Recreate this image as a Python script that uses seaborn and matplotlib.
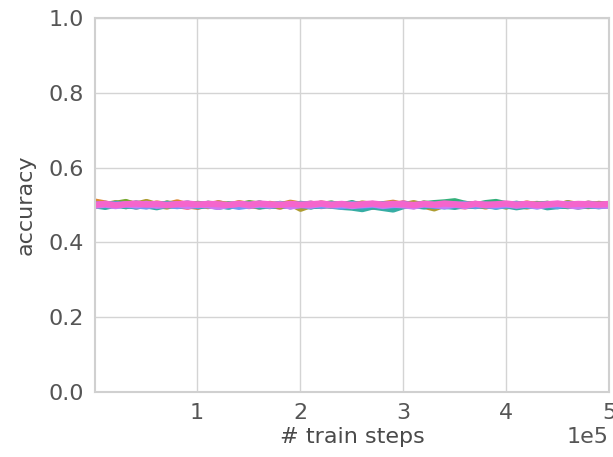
import numpy as np
import pandas as pd
import matplotlib
matplotlib.use("Agg")
import matplotlib.pyplot as plt
import seaborn as sns

# Evaluation accuracy per run, logged at evenly spaced checkpoints
first_step = 1000
last_step = 500000

runs = {
    "seed 0": [0.497, 0.502, 0.499, 0.504, 0.496, 0.501, 0.498, 0.503, 0.500, 0.495,
               0.502, 0.499, 0.505, 0.498, 0.501, 0.497, 0.503, 0.500, 0.496, 0.502,
               0.499, 0.504, 0.497, 0.501, 0.498, 0.503, 0.500, 0.496, 0.502, 0.499,
               0.505, 0.497, 0.501, 0.498, 0.503, 0.499, 0.496, 0.502, 0.500, 0.504,
               0.497, 0.501, 0.499, 0.503, 0.496, 0.500, 0.502, 0.498, 0.504, 0.499, 0.501],
    "seed 1": [0.509, 0.504, 0.498, 0.506, 0.501, 0.497, 0.504, 0.500, 0.507, 0.499,
               0.495, 0.503, 0.501, 0.498, 0.505, 0.500, 0.496, 0.503, 0.499, 0.506,
               0.501, 0.497, 0.504, 0.500, 0.498, 0.503, 0.499, 0.495, 0.502, 0.506,
               0.500, 0.497, 0.503, 0.499, 0.501, 0.505, 0.498, 0.502, 0.496, 0.503,
               0.500, 0.497, 0.504, 0.499, 0.502, 0.498, 0.505, 0.500, 0.497, 0.503, 0.500],
    "seed 2": [0.502, 0.499, 0.505, 0.497, 0.501, 0.508, 0.500, 0.496, 0.503, 0.499,
               0.502, 0.497, 0.504, 0.500, 0.498, 0.503, 0.499, 0.501, 0.496, 0.504,
               0.490, 0.500, 0.503, 0.498, 0.501, 0.497, 0.504, 0.500, 0.496, 0.502,
               0.499, 0.505, 0.498, 0.491, 0.501, 0.497, 0.503, 0.500, 0.498, 0.504,
               0.499, 0.502, 0.496, 0.501, 0.503, 0.498, 0.500, 0.497, 0.502, 0.499, 0.501],
    "seed 3": [0.500, 0.497, 0.503, 0.508, 0.499, 0.502, 0.496, 0.504, 0.500, 0.498,
               0.503, 0.500, 0.497, 0.502, 0.499, 0.505, 0.501, 0.497, 0.503, 0.499,
               0.502, 0.498, 0.500, 0.504, 0.497, 0.501, 0.499, 0.503, 0.496, 0.500,
               0.502, 0.498, 0.504, 0.500, 0.497, 0.502, 0.499, 0.503, 0.498, 0.501,
               0.496, 0.503, 0.500, 0.498, 0.502, 0.499, 0.504, 0.497, 0.501, 0.500, 0.502],
    "seed 4": [0.501, 0.498, 0.502, 0.499, 0.504, 0.500, 0.497, 0.503, 0.499, 0.501,
               0.498, 0.503, 0.500, 0.496, 0.502, 0.499, 0.504, 0.498, 0.501, 0.497,
               0.503, 0.500, 0.498, 0.502, 0.499, 0.505, 0.497, 0.501, 0.499, 0.503,
               0.500, 0.498, 0.502, 0.505, 0.507, 0.510, 0.503, 0.499, 0.505, 0.508,
               0.502, 0.498, 0.501, 0.499, 0.503, 0.500, 0.497, 0.502, 0.499, 0.501, 0.500],
    "seed 5": [0.499, 0.495, 0.501, 0.497, 0.503, 0.499, 0.494, 0.500, 0.498, 0.502,
               0.497, 0.500, 0.495, 0.501, 0.498, 0.503, 0.496, 0.499, 0.501, 0.497,
               0.500, 0.496, 0.502, 0.498, 0.495, 0.493, 0.489, 0.496, 0.492, 0.488,
               0.497, 0.500, 0.496, 0.502, 0.498, 0.495, 0.500, 0.497, 0.501, 0.496,
               0.499, 0.494, 0.498, 0.501, 0.494, 0.497, 0.500, 0.496, 0.499, 0.497, 0.500],
    "seed 6": [0.502, 0.499, 0.503, 0.500, 0.496, 0.501, 0.498, 0.502, 0.499, 0.504,
               0.497, 0.501, 0.499, 0.496, 0.502, 0.500, 0.503, 0.498, 0.501, 0.499,
               0.502, 0.497, 0.500, 0.503, 0.499, 0.501, 0.496, 0.500, 0.502, 0.498,
               0.501, 0.499, 0.503, 0.497, 0.500, 0.502, 0.498, 0.501, 0.499, 0.496,
               0.501, 0.503, 0.498, 0.500, 0.502, 0.497, 0.501, 0.499, 0.503, 0.498, 0.501],
    "seed 7": [0.500, 0.503, 0.498, 0.501, 0.499, 0.496, 0.502, 0.500, 0.497, 0.501,
               0.499, 0.503, 0.497, 0.500, 0.495, 0.499, 0.502, 0.498, 0.501, 0.497,
               0.500, 0.503, 0.498, 0.500, 0.496, 0.502, 0.499, 0.501, 0.497, 0.500,
               0.503, 0.498, 0.501, 0.499, 0.496, 0.500, 0.502, 0.498, 0.501, 0.497,
               0.499, 0.502, 0.500, 0.496, 0.501, 0.498, 0.503, 0.499, 0.500, 0.497, 0.499],
    "seed 8": [0.498, 0.501, 0.497, 0.502, 0.499, 0.503, 0.498, 0.500, 0.502, 0.497,
               0.501, 0.499, 0.495, 0.500, 0.503, 0.498, 0.501, 0.499, 0.502, 0.496,
               0.500, 0.498, 0.503, 0.499, 0.501, 0.497, 0.500, 0.502, 0.498, 0.501,
               0.499, 0.496, 0.502, 0.500, 0.498, 0.501, 0.497, 0.503, 0.499, 0.500,
               0.502, 0.498, 0.501, 0.497, 0.500, 0.503, 0.499, 0.496, 0.501, 0.499, 0.498],
    "seed 9": [0.501, 0.503, 0.500, 0.502, 0.504, 0.501, 0.503, 0.500, 0.502, 0.504,
               0.501, 0.503, 0.502, 0.500, 0.503, 0.501, 0.504, 0.502, 0.500, 0.503,
               0.501, 0.502, 0.504, 0.501, 0.503, 0.500, 0.502, 0.504, 0.501, 0.503,
               0.502, 0.500, 0.503, 0.501, 0.504, 0.502, 0.500, 0.503, 0.501, 0.502,
               0.504, 0.501, 0.503, 0.500, 0.502, 0.504, 0.501, 0.503, 0.502, 0.501, 0.503],
}

frames = []
for name, acc in runs.items():
    steps = np.linspace(first_step, last_step, len(acc))
    frames.append(pd.DataFrame({"step": steps, "accuracy": acc, "run": name}))
df = pd.concat(frames, ignore_index=True)

sns.set_theme(style="whitegrid")
plt.rcParams["font.family"] = ["DejaVu Sans"]
plt.rcParams.update({
    "axes.edgecolor": "#d0d0d0",
    "grid.color": "#d4d4d4",
    "text.color": "#4a4a4a",
    "axes.labelcolor": "#4a4a4a",
    "xtick.color": "#555555",
    "ytick.color": "#555555",
})

fs = 16

fig = plt.figure(figsize=(6.13, 4.57), dpi=100)
ax = fig.add_axes([95 / 613, 1 - 392 / 457, (609 - 95) / 613, (392 - 18) / 457])

sns.lineplot(data=df, x="step", y="accuracy", hue="run",
             palette=sns.husl_palette(len(runs)), linewidth=4.5,
             legend=False, ax=ax)

ax.set_xlim(first_step, last_step)
ax.set_ylim(0.0, 1.0)
ax.set_xticks([100000, 200000, 300000, 400000, 500000])
ax.set_yticks([0.0, 0.2, 0.4, 0.6, 0.8, 1.0])
ax.ticklabel_format(axis="x", style="sci", scilimits=(0, 0))
ax.xaxis.get_offset_text().set_fontsize(fs)
ax.tick_params(labelsize=fs, length=0, pad=8)
ax.set_xlabel("# train steps", fontsize=fs, labelpad=3)
ax.set_ylabel("accuracy", fontsize=fs, labelpad=9)
for spine in ax.spines.values():
    spine.set_linewidth(1.5)

fig.savefig("out.png", dpi=100)
